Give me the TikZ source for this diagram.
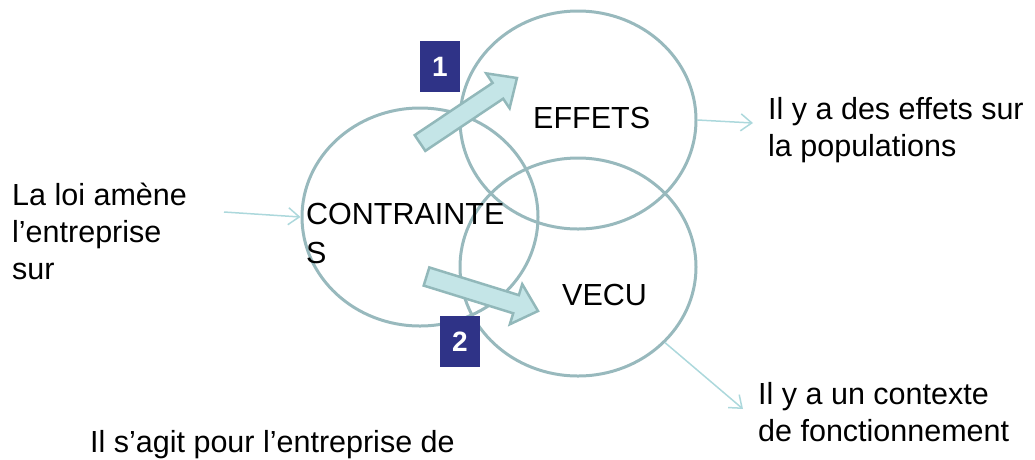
\documentclass[tikz,border=0pt]{standalone}
\usepackage{fontspec}
\setmainfont{Liberation Sans}
\usetikzlibrary{shapes.geometric,arrows.meta,calc}
\definecolor{ring}{HTML}{98B9BD}
\definecolor{flow}{HTML}{C4E5E7}
\definecolor{flowline}{HTML}{92B8BA}
\definecolor{hint}{HTML}{ACD8DC}
\definecolor{tag}{HTML}{2F3387}

\tikzset{
    circ/.style={draw=ring, line width=3pt, ellipse, minimum width=236pt, minimum height=218pt, inner sep=0pt},
    txt/.style={inner sep=0pt, align=left, font=\fontsize{30.5}{37}\selectfont},
    tagbox/.style={fill=tag, minimum width=40pt, minimum height=51pt, inner sep=0pt, text=white, font=\fontsize{28}{28}\selectfont\bfseries},
    hintarrow/.style={draw=hint, line width=1.5pt, -{Straight Barb[length=11pt,width=17pt]}},
}

% block arrow from #1 (tail) to #2 (tip)
\newcommand{\blockarrow}[2]{%
    \path ($(#2)!23pt!(#1)$) coordinate (neck);
    \draw[flowline, fill=flow, line width=2.5pt]
        ($(#1)!9.5pt!90:(#2)$)
        -- ($(neck)!9.5pt!90:(#2)$)
        -- ($(neck)!21pt!90:(#2)$)
        -- (#2)
        -- ($(neck)!21pt!-90:(#2)$)
        -- ($(neck)!9.5pt!-90:(#2)$)
        -- ($(#1)!9.5pt!-90:(#2)$)
        -- cycle;}

\begin{document}
\begin{tikzpicture}[x=1pt,y=-1pt]
        \useasboundingbox (0,0) rectangle (1035,459);
        \node[circ] (contr) at (420,217) {};
        \node[circ] (effets) at (578,120) {};
        \node[circ] (vecu) at (578,267) {};

        \node[txt, anchor=north west] (loi) at (12,183) {La loi amène\\l’entreprise\\sur};
        \node[txt, anchor=north west] (popu) at (768,97) {Il y a des effets sur\\la populations};
        \node[txt, anchor=north west] (contexte) at (758,382) {Il y a un contexte\\de fonctionnement};
        \node[txt, anchor=base west] (agit) at (90,452) {Il s’agit pour l’entreprise de};

        \coordinate (loiOut) at (224,212);
        \coordinate (popuIn) at (753,123);
        \coordinate (contexteIn) at (743,409);
        \draw[hintarrow] (loiOut) -- (contr.west);
        \draw[hintarrow] (effets.east) -- (popuIn);
        \draw[hintarrow] (vecu.-41) -- (contexteIn);

        \coordinate (tail1) at (420,143);
        \coordinate (tip1) at (517,78);
        \coordinate (tail2) at (426.5,276.5);
        \coordinate (tip2) at (538,311);
        \blockarrow{tail1}{tip1}
        \blockarrow{tail2}{tip2}

        \node[tagbox] (n1) at (440,66.5) {1};
        \node[tagbox] (n2) at (460,341.5) {2};

        \node[txt, anchor=base west] (effetsT) at (533,128) {EFFETS};
        \node[txt, anchor=base west] (vecuT) at (562,305) {VECU};
        \node[txt, anchor=north west, font=\fontsize{30.5}{38.5}\selectfont] (contrT) at (306,203) {CONTRAINTE\\S};
    \end{tikzpicture}
\end{document}
